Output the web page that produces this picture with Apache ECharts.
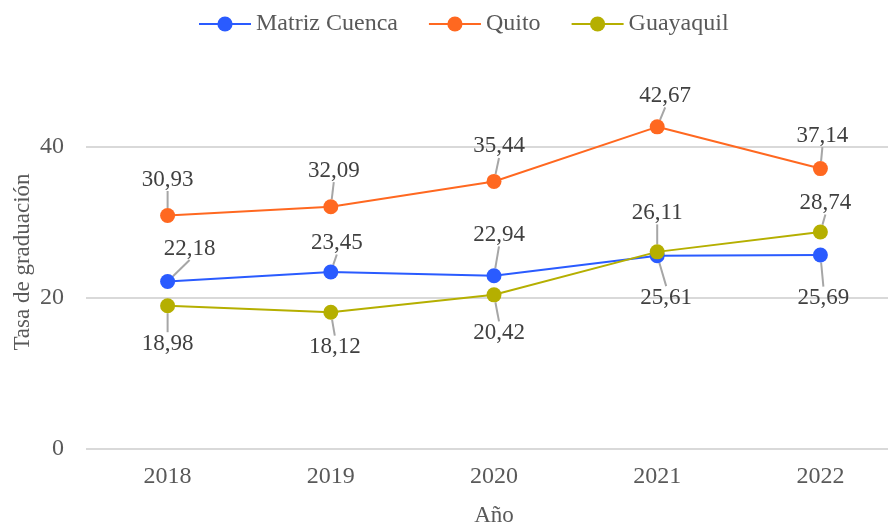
<!DOCTYPE html>
<html>
<head>
<meta charset="utf-8">
<script src="https://cdn.jsdelivr.net/npm/echarts@6/dist/echarts.min.js"></script>
<style>
  html, body { margin: 0; padding: 0; background: #ffffff; }
  #chart { width: 888px; height: 524px; }
</style>
</head>
<body>
<div id="chart"></div>
<script>
  var years = ["2018", "2019", "2020", "2021", "2022"];
  var cuenca = [22.18, 23.45, 22.94, 25.61, 25.69];
  var quito = [30.93, 32.09, 35.44, 42.67, 37.14];
  var guayaquil = [18.98, 18.12, 20.42, 26.11, 28.74];

  // label offsets from the point (dx, dy), per series
  var labelOffsets = [
    [[22, -33], [6, -29], [5, -41], [9, 42], [3, 43]],
    [[0, -36], [3, -36], [5, -35], [8, -31], [2, -33]],
    [[0, 38], [4, 35], [5, 38], [0, -39], [5, -29]]
  ];

  var font = "'Liberation Serif', 'Times New Roman', serif";
  var chart = echarts.init(document.getElementById("chart"));

  function makeSeries(name, data, color) {
    return {
      name: name,
      type: "line",
      data: data,
      clip: false,
      symbol: "circle",
      symbolSize: 15,
      itemStyle: { color: color },
      lineStyle: { color: color, width: 2 },
      label: {
        show: true,
        position: "inside",
        color: "#404040",
        fontFamily: font,
        fontSize: 23,
        formatter: function(p) {
          return p.value.toFixed(2).replace(".", ",");
        }
      },
      labelLine: {
        show: true,
        lineStyle: { color: "#a6a6a6", width: 2 }
      }
    };
  }

  chart.setOption({
    animation: false,
    textStyle: { fontFamily: font },
    legend: {
      top: 7,
      left: 193,
      itemWidth: 52,
      itemHeight: 19,
      itemGap: 30,
      textStyle: { color: "#595959", fontSize: 24, fontFamily: font }
    },
    grid: { left: 86, right: -14, top: 147, bottom: 75, outerBoundsMode: "none", containLabel: false },
    xAxis: {
      type: "category",
      data: years,
      name: "Año",
      nameLocation: "middle",
      nameGap: 55,
      nameTextStyle: { color: "#595959", fontSize: 23, fontFamily: font },
      axisLine: { show: false },
      axisTick: { show: false },
      axisLabel: { color: "#595959", fontSize: 24, fontFamily: font, margin: 16 }
    },
    yAxis: {
      type: "value",
      min: 0,
      max: 40,
      interval: 20,
      name: "Tasa de graduación",
      nameLocation: "middle",
      nameGap: 52,
      nameMoveOverlap: false,
      nameTextStyle: { color: "#595959", fontSize: 23, fontFamily: font, padding: [0, 0, 0, 72] },
      axisLine: { show: false },
      axisTick: { show: false },
      axisLabel: { color: "#595959", fontSize: 24, fontFamily: font, margin: 22 },
      splitLine: { lineStyle: { color: "#d9d9d9", width: 2 } }
    },
    labelLayout: function(params) {
      var off = labelOffsets[params.seriesIndex][params.dataIndex];
      return { dx: off[0], dy: off[1] };
    },
    series: [
      makeSeries("Matriz Cuenca", cuenca, "#2A5BFF"),
      makeSeries("Quito", quito, "#FF6820"),
      makeSeries("Guayaquil", guayaquil, "#B5AF00")
    ]
  });
</script>
</body>
</html>
